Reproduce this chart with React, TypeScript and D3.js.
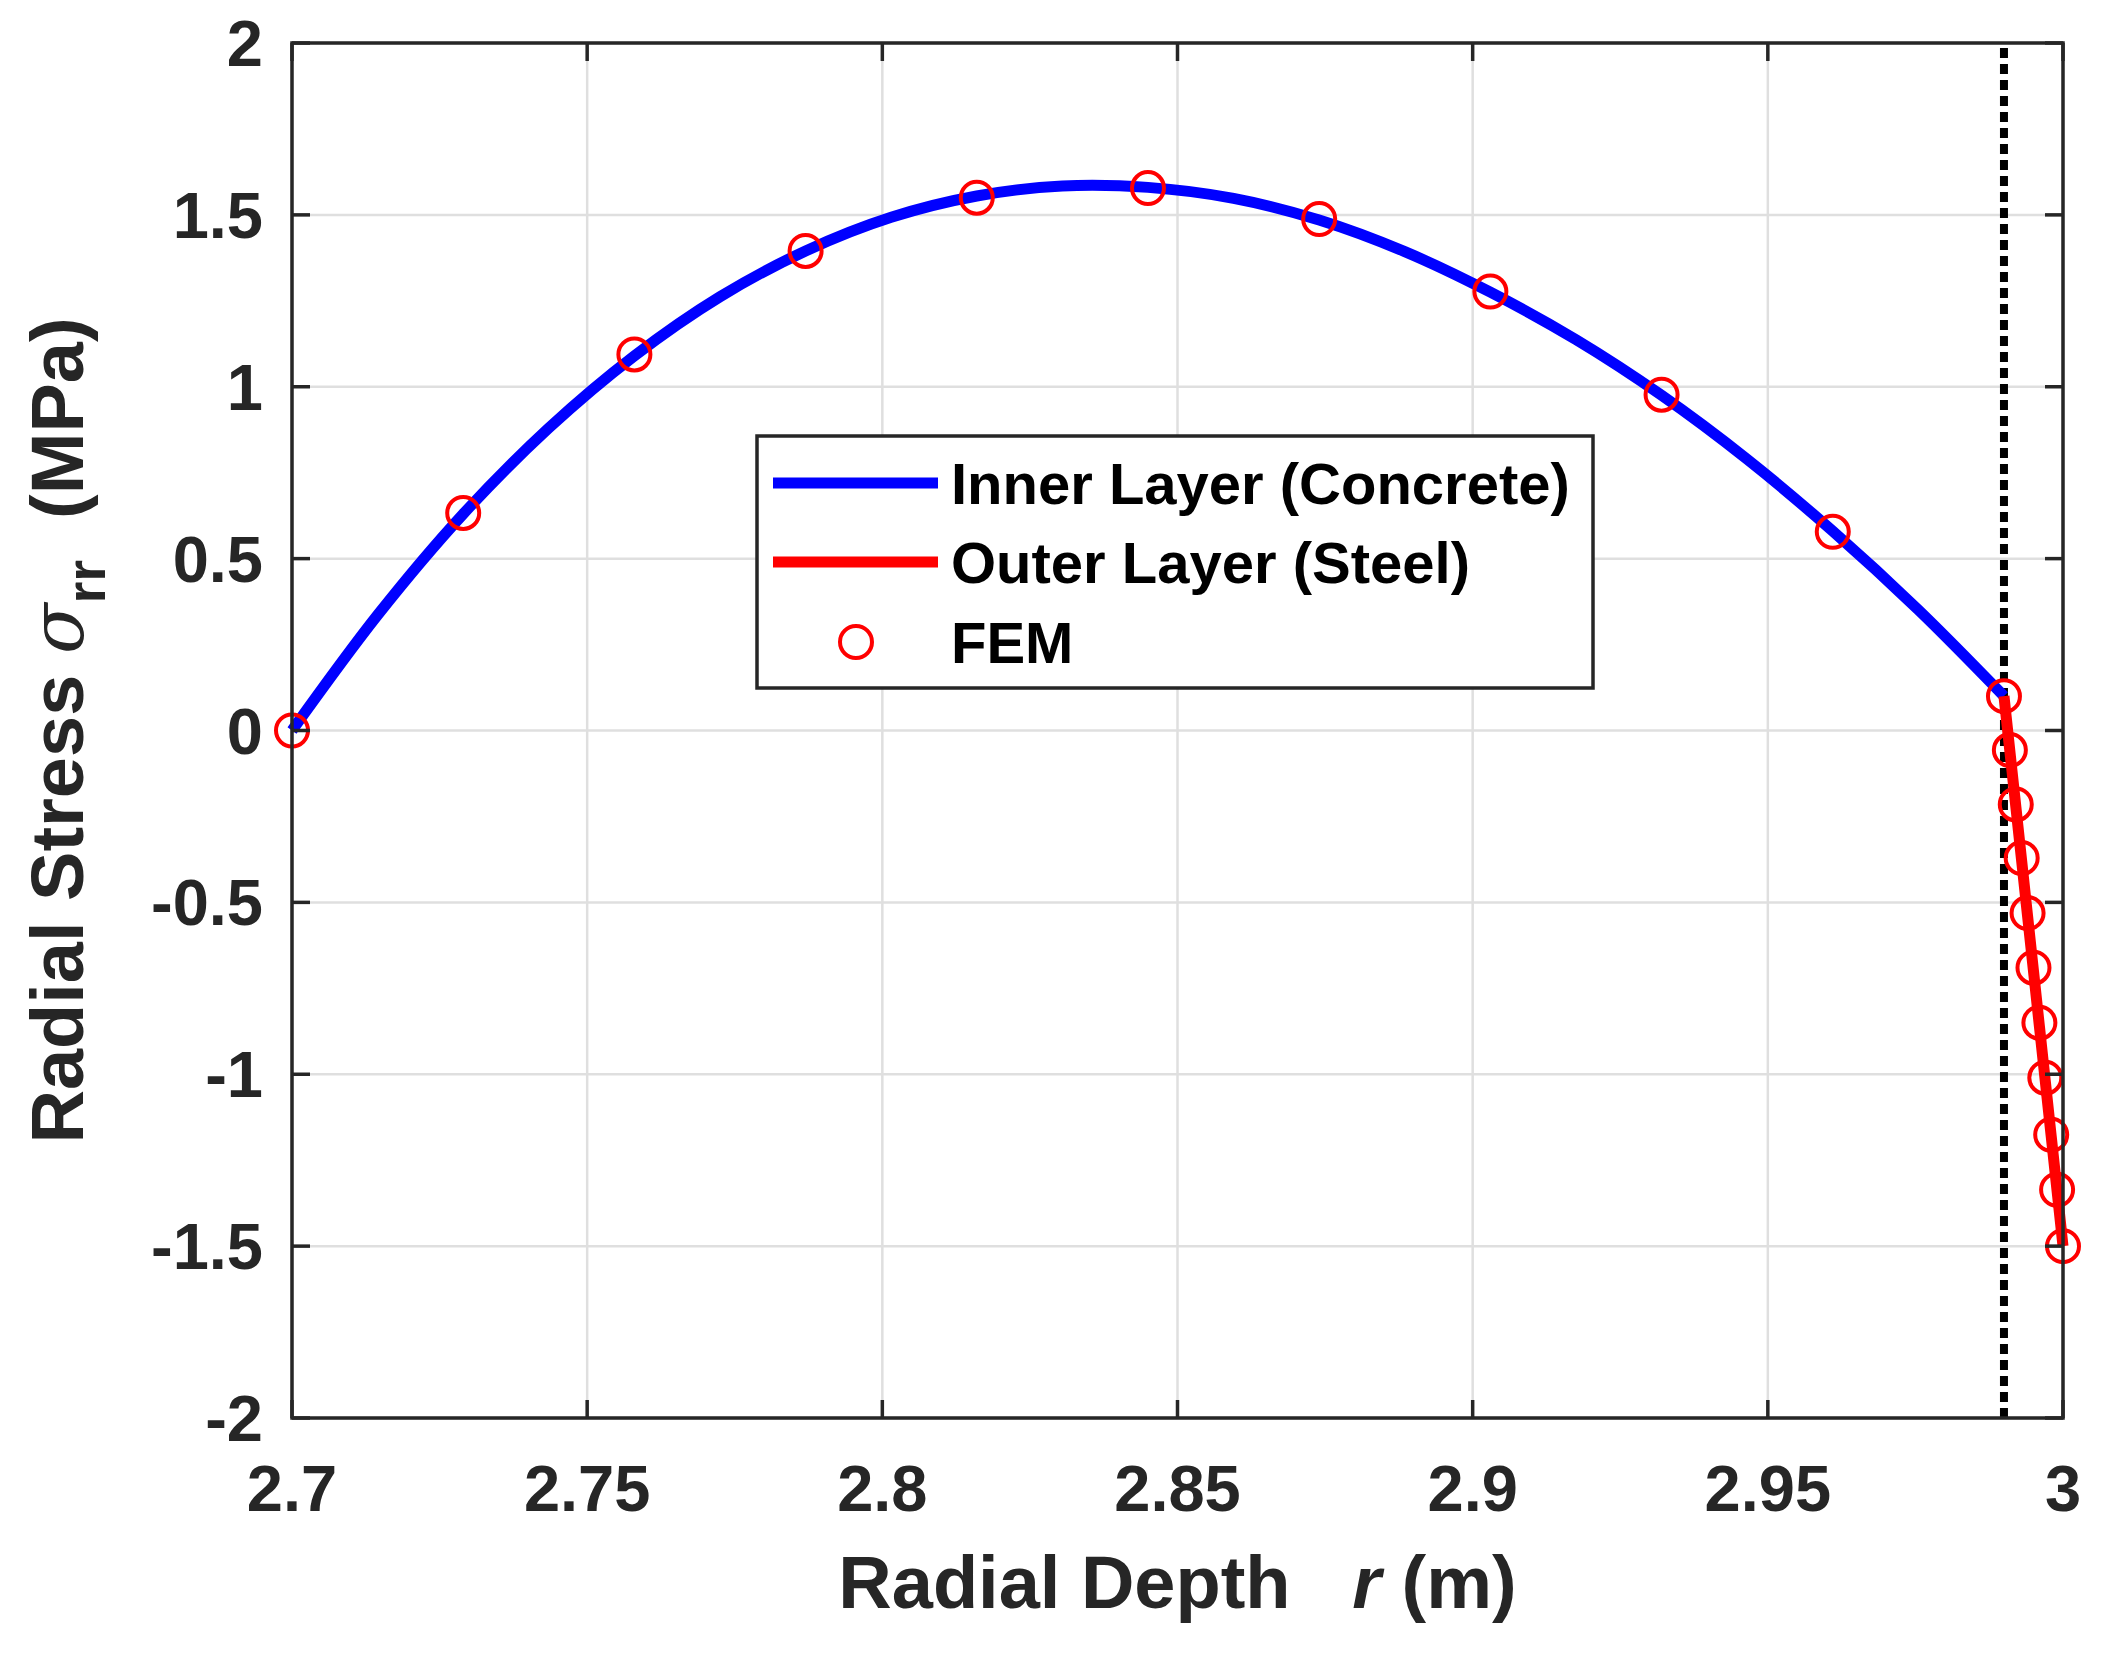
import React from "react";
import * as d3 from "d3";

// analytical solution, inner layer (concrete)
const innerR = [2.7, 2.7145, 2.729, 2.7435, 2.758, 2.7725, 2.787, 2.8015, 2.816, 2.8305, 2.845, 2.8595, 2.874, 2.8885, 2.903, 2.9175, 2.932, 2.9465, 2.961, 2.9755, 2.99];
const innerS = [0, 0.336, 0.63, 0.88, 1.09, 1.262, 1.395, 1.493, 1.555, 1.584, 1.58, 1.548, 1.485, 1.393, 1.275, 1.137, 0.975, 0.789, 0.58, 0.351, 0.1];

// analytical solution, outer layer (steel)
const outerR = [2.99, 2.992, 2.994, 2.996, 2.998, 3.0];
const outerS = [0.1, -0.22, -0.54, -0.86, -1.18, -1.5];

// FEM results
const femR = [2.7, 2.729, 2.758, 2.787, 2.816, 2.845, 2.874, 2.903, 2.932, 2.961, 2.99,
  2.991, 2.992, 2.993, 2.994, 2.995, 2.996, 2.997, 2.998, 2.999, 3.0];
const femS = [0, 0.633, 1.094, 1.395, 1.55, 1.578, 1.488, 1.277, 0.977, 0.578, 0.1,
  -0.057, -0.215, -0.371, -0.531, -0.69, -0.85, -1.01, -1.176, -1.336, -1.5];

const interfaceR = 2.99;

const xTicks = [2.7, 2.75, 2.8, 2.85, 2.9, 2.95, 3];
const yTicks = [-2, -1.5, -1, -0.5, 0, 0.5, 1, 1.5, 2];

const legendItems = ["Inner Layer (Concrete)", "Outer Layer (Steel)", "FEM"];

const W = 2102, H = 1653;
const margin = { top: 43, right: 39, bottom: 235, left: 292 };
const font = "'Liberation Sans', Arial, Helvetica, sans-serif";
const axisColor = "#262626";

export default function App() {
  const x = d3.scaleLinear().domain([2.7, 3]).range([margin.left, W - margin.right]);
  const y = d3.scaleLinear().domain([-2, 2]).range([H - margin.bottom, margin.top]);

  const line = d3.line<[number, number]>()
    .x(d => x(d[0]))
    .y(d => y(d[1]))
    .curve(d3.curveCatmullRom);

  const innerPath = line(innerR.map((r, i) => [r, innerS[i]]));
  const outerPath = line(outerR.map((r, i) => [r, outerS[i]]));

  const x0 = x.range()[0], x1 = x.range()[1];
  const y0 = y.range()[0], y1 = y.range()[1];
  const tickLen = 18;

  // legend
  const lg = { x: 757, y: 436, w: 836, h: 252 };
  const rowY = [483, 562, 642];

  return (
    <svg width={W} height={H} style={{ position: "absolute", left: 0, top: 0, background: "#fff" }}>
      <rect width={W} height={H} fill="#fff" />
      {/* grid */}
      {xTicks.map(t => (
        <line key={"gx" + t} x1={x(t)} x2={x(t)} y1={y0} y2={y1} stroke="#dfdfdf" strokeWidth={2.5} />
      ))}
      {yTicks.map(t => (
        <line key={"gy" + t} x1={x0} x2={x1} y1={y(t)} y2={y(t)} stroke="#dfdfdf" strokeWidth={2.5} />
      ))}

      {/* interface */}
      <line x1={x(interfaceR)} x2={x(interfaceR)} y1={y0} y2={y1} stroke="#000" strokeWidth={8} strokeDasharray="10,6" />

      {/* curves */}
      <path d={innerPath ?? ""} fill="none" stroke="#0000ff" strokeWidth={11} />
      <path d={outerPath ?? ""} fill="none" stroke="#ff0000" strokeWidth={11} />

      {/* FEM markers */}
      {femR.map((r, i) => (
        <circle key={"m" + i} cx={x(r)} cy={y(femS[i])} r={16} fill="none" stroke="#ff0000" strokeWidth={4} />
      ))}

      {/* axes box */}
      <rect x={x0} y={y1} width={x1 - x0} height={y0 - y1} fill="none" stroke={axisColor} strokeWidth={3.5} />
      {xTicks.map(t => (
        <g key={"tx" + t}>
          <line x1={x(t)} x2={x(t)} y1={y0} y2={y0 - tickLen} stroke={axisColor} strokeWidth={3.5} />
          <line x1={x(t)} x2={x(t)} y1={y1} y2={y1 + tickLen} stroke={axisColor} strokeWidth={3.5} />
          <text x={x(t)} y={1511} textAnchor="middle" fontFamily={font} fontWeight="bold" fontSize={65} fill={axisColor}>
            {String(t)}
          </text>
        </g>
      ))}
      {yTicks.map(t => (
        <g key={"ty" + t}>
          <line x1={x0} x2={x0 + tickLen} y1={y(t)} y2={y(t)} stroke={axisColor} strokeWidth={3.5} />
          <line x1={x1} x2={x1 - tickLen} y1={y(t)} y2={y(t)} stroke={axisColor} strokeWidth={3.5} />
          <text x={263} y={y(t) + 23} textAnchor="end" fontFamily={font} fontWeight="bold" fontSize={65} fill={axisColor}>
            {String(t)}
          </text>
        </g>
      ))}

      {/* axis labels */}
      <text x={(x0 + x1) / 2} y={1608} textAnchor="middle" fontFamily={font} fontWeight="bold" fontSize={74} fill={axisColor}>
        Radial Depth{"\u00a0\u00a0 "}<tspan fontStyle="italic">r</tspan> (m)
      </text>
      <text transform={`translate(83,${(y0 + y1) / 2}) rotate(-90)`} textAnchor="middle" fontFamily={font} fontWeight="bold" fontSize={74} fill={axisColor}>
        Radial Stress <tspan fontStyle="italic" fontWeight="normal" fontFamily="'DejaVu Serif', serif">σ</tspan>
        <tspan fontSize={56} dy={22}>rr</tspan>
        <tspan dy={-22}>{"\u00a0 (MPa)"}</tspan>
      </text>

      {/* legend */}
      <rect x={lg.x} y={lg.y} width={lg.w} height={lg.h} fill="#fff" stroke={axisColor} strokeWidth={3.5} />
      <line x1={773} x2={938} y1={rowY[0]} y2={rowY[0]} stroke="#0000ff" strokeWidth={11} />
      <line x1={773} x2={938} y1={rowY[1]} y2={rowY[1]} stroke="#ff0000" strokeWidth={11} />
      <circle cx={856} cy={rowY[2]} r={16} fill="none" stroke="#ff0000" strokeWidth={4} />
      {legendItems.map((s, i) => (
        <text key={s} x={951} y={rowY[i] + 21} fontFamily={font} fontWeight="bold" fontSize={58} fill="#000">
          {s}
        </text>
      ))}
    </svg>
  );
}
